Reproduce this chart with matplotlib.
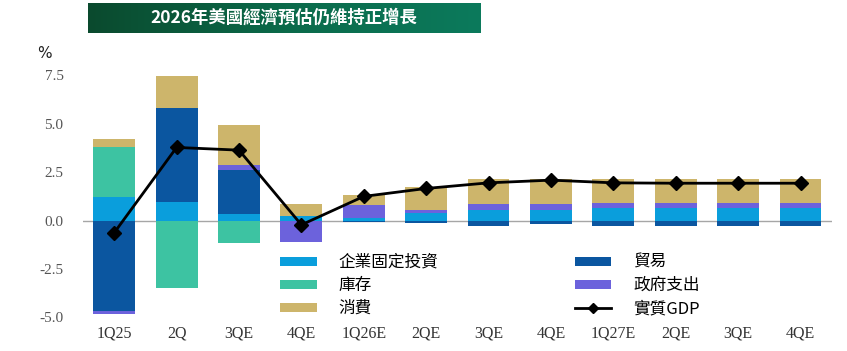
import numpy as np
import matplotlib
matplotlib.use('Agg')
import matplotlib.pyplot as plt
from matplotlib.patches import Patch
from matplotlib.lines import Line2D
from matplotlib.colors import LinearSegmentedColormap

plt.rcParams['font.family'] = ['Noto Sans CJK TC', 'DejaVu Sans']

# data (percentage-point contributions, SAAR %)
categories = ['1Q25', '2Q', '3QE', '4QE', '1Q26E', '2QE', '3QE', '4QE',
              '1Q27E', '2QE', '3QE', '4QE']
invest = [1.23, 0.96, 0.34, 0.22, 0.14, 0.38, 0.54, 0.54, 0.66, 0.66, 0.66, 0.66]
trade = [-4.66, 4.84, 2.27, 0.0, -0.07, -0.14, -0.28, -0.18, -0.28, -0.28, -0.28, -0.28]
gov = [-0.19, 0.0, 0.26, -1.09, 0.66, 0.17, 0.30, 0.30, 0.26, 0.26, 0.26, 0.26]
inventory = [2.57, -3.47, -1.15, 0, 0, 0, 0, 0, 0, 0, 0, 0]
consumption = [0.41, 1.68, 2.08, 0.63, 0.52, 1.21, 1.30, 1.30, 1.22, 1.22, 1.22, 1.22]
gdp = [-0.63, 3.78, 3.64, -0.22, 1.25, 1.66, 1.95, 2.09, 1.95, 1.93, 1.93, 1.93]

series = [
    ('企業固定投資', invest, '#0A9EDC'),
    ('貿易', trade, '#0B56A0'),
    ('政府支出', gov, '#6C62DC'),
    ('庫存', inventory, '#3DC3A2'),
    ('消費', consumption, '#CDB56B'),
]

fig = plt.figure(figsize=(8.47, 3.51), dpi=100)
ax = fig.add_axes([0.098, 0.096, 0.884, 0.689])

x = np.arange(len(categories))
pos_bottom = np.zeros(len(x))
neg_bottom = np.zeros(len(x))
handles = {}
for name, vals, col in series:
    v = np.array(vals, dtype=float)
    base = np.where(v >= 0, pos_bottom, neg_bottom)
    ax.bar(x, v, width=0.67, bottom=base, color=col, edgecolor='none', zorder=2)
    pos_bottom += np.where(v >= 0, v, 0)
    neg_bottom += np.where(v < 0, v, 0)
    handles[name] = Patch(facecolor=col, edgecolor='none')

ax.axhline(0, color='#A6A6A6', lw=1.0, zorder=1)
ax.plot(x, gdp, color='black', lw=2, marker='D', markersize=7.5, zorder=4)

ax.set_xlim(-0.5, 11.5)
ax.set_ylim(-5, 7.5)
ax.set_yticks([-5, -2.5, 0, 2.5, 5, 7.5])
ax.set_yticklabels(['-5.0', '-2.5', '0.0', '2.5', '5.0', '7.5'],
                   family='Liberation Serif', fontsize=11, color='#555555')
ax.set_xticks(x)
ax.set_xticklabels(categories, family='Liberation Serif', fontsize=11.5, color='#333333')
ax.tick_params(axis='y', length=0, pad=14)
ax.tick_params(axis='x', length=0, pad=6)
for s in ax.spines.values():
    s.set_visible(False)

order = ['企業固定投資', '庫存', '消費', '貿易', '政府支出']
leg_handles = [handles[n] for n in order] + [
    Line2D([0], [0], color='black', lw=2, marker='D', markersize=5)]
leg_labels = order + ['實質GDP']
ax.legend(leg_handles, leg_labels, ncol=2, loc='upper left',
          bbox_to_anchor=(280 / 847, 1 - 254 / 351), bbox_transform=fig.transFigure,
          frameon=False, fontsize=12, handlelength=2.2, handleheight=0.45,
          handletextpad=1.3, columnspacing=8.2, labelspacing=0.36, borderpad=0,
          borderaxespad=0)

fig.text(0.052, 0.848, '%', fontsize=11, family='DejaVu Sans', color='#222222',
         ha='center', va='center')

# title banner with green gradient
bax = fig.add_axes([88 / 847, 1 - 33 / 351, 392 / 847, 30 / 351])
cmap = LinearSegmentedColormap.from_list('g', ['#0A4A2E', '#0B6A4A', '#0C7A5C'])
bax.imshow(np.linspace(0, 1, 256).reshape(1, -1), aspect='auto', cmap=cmap,
           extent=[0, 1, 0, 1])
bax.set_axis_off()
bax.text(0.5, 0.5, '2026年美國經濟預估仍維持正增長', color='white', fontsize=12.5,
         fontweight='bold', ha='center', va='center', transform=bax.transAxes)

fig.savefig('out.png', dpi=100)
